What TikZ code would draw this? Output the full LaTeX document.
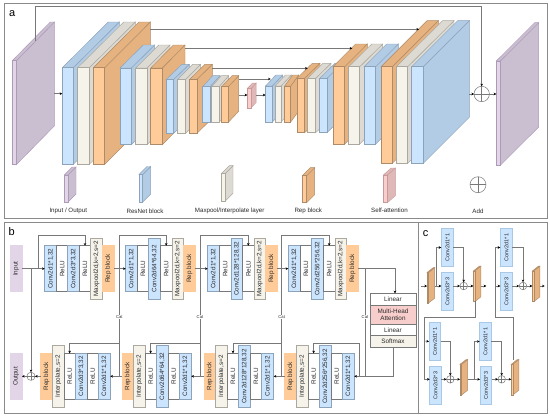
\documentclass[tikz,border=0pt]{standalone}
\usepackage{fontspec}
\usepackage{graphicx}
\setmainfont{Liberation Sans}
\usetikzlibrary{arrows.meta,calc}
\definecolor{bluef}{HTML}{CCE5FF}\definecolor{blues}{HTML}{B3CCE6}\definecolor{bluel}{HTML}{8CA3BA}
\definecolor{whitef}{HTML}{F6F3EA}\definecolor{whites}{HTML}{DCDAD2}\definecolor{whitel}{HTML}{ABA99F}
\definecolor{orangef}{HTML}{FFCC99}\definecolor{oranges}{HTML}{E6B380}\definecolor{orangel}{HTML}{AE8B68}
\definecolor{purplef}{HTML}{E1D5E7}\definecolor{purples}{HTML}{CABFD0}\definecolor{purplel}{HTML}{AD99B8}
\definecolor{pinkf}{HTML}{F8CECC}\definecolor{pinks}{HTML}{DFB9B7}\definecolor{pinkl}{HTML}{C9999A}
\definecolor{wire}{HTML}{787878}\definecolor{frameg}{HTML}{8A8A8A}\definecolor{txt}{HTML}{2A2A2A}\definecolor{cedge}{HTML}{A9C8E6}
\newcommand\cub[8]{%
  \pgfmathsetmacro\cxa{#3+#6}\pgfmathsetmacro\cya{#4-#7}\pgfmathsetmacro\cyb{#5-#7}
  \pgfmathsetmacro\cxb{#2+#6}\pgfmathsetmacro\cmx{(#2+#3)/2}\pgfmathsetmacro\cmy{(#4+#5)/2}
  \pgfmathsetmacro\cwd{#3-#2}\pgfmathsetmacro\cht{#5-#4}
  \draw[line width=.45pt,draw=#8l,fill=#8s] (#3,#4)--(\cxa,\cya)--(\cxa,\cyb)--(#3,#5)--cycle;
  \draw[line width=.45pt,draw=#8l,fill=#8s] (#2,#4)--(\cxb,\cya)--(\cxa,\cya)--(#3,#4)--cycle;
  \node[draw=#8l,fill=#8f,line width=.45pt,inner sep=0pt,outer sep=0pt,minimum width=\cwd pt,minimum height=\cht pt] (#1) at (\cmx,\cmy) {};
  \coordinate (#1-r) at (\cxa,\cya);
}
\newcommand\bxr[7]{%
  \pgfmathsetmacro\bcx{(#2+#3)/2}\pgfmathsetmacro\bcy{(#4+#5)/2}
  \pgfmathsetmacro\bwd{#3-#2}\pgfmathsetmacro\bht{#5-#4}
  \node[box,#6,minimum width=\bwd pt,minimum height=\bht pt] (#1) at (\bcx,\bcy) {\rotatebox{90}{#7}};
}
\newcommand\bxh[7]{%
  \pgfmathsetmacro\bcx{(#2+#3)/2}\pgfmathsetmacro\bcy{(#4+#5)/2}
  \pgfmathsetmacro\bwd{#3-#2}\pgfmathsetmacro\bht{#5-#4}
  \node[box,#6,minimum width=\bwd pt,minimum height=\bht pt] (#1) at (\bcx,\bcy) {#7};
}
\tikzset{
  box/.style={draw=wire,line width=.5pt,inner sep=0pt,outer sep=0pt,text=txt,font=\fontsize{6.35}{7.4}\selectfont,align=center},
  bl/.style={fill=bluef,draw=bluel},
  wh/.style={fill=whitef,draw=whitel},
  or/.style={fill=orangef,draw=orangef},
  pu/.style={fill=purplef,draw=purplef},
  pk/.style={fill=pinkf,draw=pinkl},
  pl/.style={fill=white},
  cc/.style={font=\fontsize{5.5}{6}\selectfont},
  wireln/.style={draw=wire,line width=.6pt},
  arr/.style={wireln,-{Stealth[length=2.6pt,width=2.6pt,color=black]}},
  addc/.style={circle,draw=wire,line width=.5pt,fill=white,inner sep=0pt,outer sep=0pt,minimum size=#1,
    path picture={\draw[wire,line width=.45pt] (path picture bounding box.north)--(path picture bounding box.south)
      (path picture bounding box.west)--(path picture bounding box.east);}},
  cat/.style={fill=white,inner sep=.5pt,text=txt,font=\fontsize{4.2}{5}\selectfont},
  leg/.style={text=txt,font=\fontsize{6.2}{7}\selectfont,inner sep=0pt},
  plab/.style={text=black,font=\fontsize{11}{12}\selectfont,inner sep=0pt},
  panel/.style={draw=frameg,line width=.8pt,fill=none}
}
\begin{document}
\begin{tikzpicture}[x=1pt,y=-1pt]
\useasboundingbox (0,0) rectangle (550,416);
\fill[white] (0,0) rectangle (550,416);
% panels
\draw[panel] (4,3) rectangle (547.3,218);
\draw[panel] (4,222.3) rectangle (418.3,413.3);
\draw[panel] (418.3,222.3) rectangle (547.3,413.3);
\node[plab] (la) at (12.3,14) {a};
\node[plab] (lb) at (11.7,232) {b};
\node[plab] (lc) at (425.7,234) {c};
%% PANEL A
\cub{pin}{12.3}{16.3}{60.7}{164.7}{38}{38.7}{purple}
\cub{a1}{62.3}{73.3}{67.7}{164.3}{46}{45.7}{blue}
\cub{a2}{77.7}{89.3}{67.7}{164.3}{46}{45.7}{white}
\cub{a3}{93.3}{104.7}{67.7}{164.3}{45.6}{45.7}{orange}
\cub{a4}{120}{131.3}{68}{144.7}{23.3}{23}{blue}
\cub{a5}{135.7}{147}{68}{144.7}{23}{23}{white}
\cub{a6}{150.7}{162.3}{68}{144.7}{22.7}{23}{orange}
\cub{a7}{166.3}{173.7}{79.3}{133.3}{15.6}{15}{blue}
\cub{a8}{177.7}{185.7}{79.3}{133.3}{15}{15}{white}
\cub{a9}{189.7}{197}{79.3}{133.3}{15.3}{15}{orange}
\cub{a10}{202.7}{210}{86.7}{122.3}{10}{11}{blue}
\cub{a11}{211.7}{219}{86.7}{122.3}{9.7}{11}{white}
\cub{a12}{221.7}{228.3}{86.7}{122.3}{10.4}{11}{orange}
\cub{sa}{247.3}{251}{88.5}{107.8}{5.2}{5.4}{pink}
\cub{a13}{265.5}{272.3}{86}{122}{10.4}{11}{blue}
\cub{a14}{275}{281}{86}{122}{10.4}{11}{white}
\cub{a15}{284.7}{290.7}{86}{122}{8}{11}{orange}
\cub{a16}{297}{304.7}{78.3}{132.7}{15.3}{15}{orange}
\cub{a17}{307.7}{315.7}{78.3}{132.7}{15.3}{15}{white}
\cub{a18}{319.7}{327}{78.3}{132.7}{15.3}{15}{blue}
\cub{a19}{333}{344.7}{66.7}{144}{22.6}{22.7}{orange}
\cub{a20}{348.7}{359.7}{66.7}{144}{23}{22.7}{white}
\cub{a21}{364}{375.7}{66.7}{144}{22.6}{22.7}{blue}
\cub{a22}{381}{392.3}{66.7}{163.3}{46}{46}{orange}
\cub{a23}{396.3}{407.7}{66.7}{163.3}{46.3}{46}{white}
\cub{a24}{411.7}{423.3}{66.7}{163.3}{46}{46}{blue}
\cub{pout}{496.3}{500.3}{61}{165.3}{38.4}{38.3}{purple}
\node[addc=15.4pt] (aadd) at (481.7,94) {};
% skips
\coordinate (s1a) at (35,40.7);\coordinate (s1b) at (481.7,6.3);
\draw[arr] (s1a) |- (s1b) -- (aadd.north);
\coordinate (s2a) at (150.3,29.3);\coordinate (s2b) at (419,29.3);
\draw[arr] (s2a) -- (s2b);
\coordinate (s3a) at (185,48.3);\coordinate (s3b) at (352.3,48.3);
\draw[arr] (s3a) -- (s3b);
\coordinate (s4a) at (212.3,68.3);\coordinate (s4b) at (307.7,68.3);
\draw[arr] (s4a) -- (s4b);
\coordinate (s5a) at (239,79);\coordinate (s5b) at (270.7,79);
\draw[arr] (s5a) -- (s5b);
\coordinate (i1) at (54.3,93.7);\coordinate (i2) at (62.3,93.7);
\draw[arr] (i1) -- (i2);
\coordinate (m1) at (239,95);\coordinate (m2) at (247.3,95);\coordinate (m3) at (256.2,95);\coordinate (m4) at (265.5,95);
\draw[arr] (m1) -- (m2);
\draw[arr] (m3) -- (m4);
\coordinate (o1) at (469.3,94);\coordinate (o2) at (496.3,94);
\draw[arr] (o1) -- (aadd.west);
\draw[arr] (aadd.east) -- (o2);
% legend
\cub{l1}{64.3}{68}{175}{202}{8}{8}{purple}
\cub{l2}{139}{142.7}{174.5}{202}{8}{8}{blue}
\cub{l3}{221.3}{225}{173.7}{201.3}{8}{8}{white}
\cub{l4}{302.3}{306.7}{175.7}{202.7}{8}{8}{orange}
\cub{l5}{383.3}{387.3}{175}{202.7}{8}{7}{pink}
\node[addc=16pt] (l6) at (478,184.7) {};
\node[leg] (t1) at (68.3,211.3) {Input / Output};
\node[leg] (t2) at (145,210.8) {ResNet block};
\node[leg] (t3) at (229.7,210.5) {Maxpool/Interpolate layer};
\node[leg] (t4) at (308.3,210.5) {Rep block};
\node[leg] (t5) at (389.5,210.5) {Self-attention};
\node[leg] (t6) at (478,210.8) {Add};
%% PANEL B
\bxr{inp}{10}{22}{245.7}{291.7}{pu}{Input}
\bxr{outp}{10}{22}{353.3}{399.3}{pu}{Output}
% top row 1
\bxr{c11}{44.7}{56.7}{245.7}{291.7}{bl}{Conv2d1*1,32}
\bxr{r11}{56.7}{67.7}{245.7}{291.7}{pl}{ReLU}
\bxr{c12}{67.7}{79.3}{245.7}{291.7}{bl}{Conv2d3*3,32}
\bxr{r12}{79.3}{90.7}{245.7}{291.7}{pl}{ReLU}
\bxr{m1b}{90.7}{102.3}{238.3}{299.3}{wh}{Maxpool2d,k=2,s=2}
\bxr{p1}{102.3}{114.3}{245.7}{291.7}{or}{Rep block}
% top row 2
\bxr{c21}{125.7}{137.3}{245.7}{291.7}{bl}{Conv2d1*1,32}
\bxr{r21}{137.3}{148.7}{245.7}{291.7}{pl}{ReLU}
\bxr{c22}{148.7}{160.3}{238.3}{299.3}{bl}{Conv2d64*64,32}
\bxr{r22}{160.3}{172}{245.7}{291.7}{pl}{ReLU}
\bxr{m2b}{172}{183.7}{238.3}{299.3}{wh}{Maxpool2d,k=2,s=2}
\bxr{p2}{183.7}{195.3}{245.7}{291.7}{or}{Rep block}
% top row 3
\bxr{c31}{207.7}{219.3}{245.7}{291.7}{bl}{Conv2d1*1,32}
\bxr{r31}{219.3}{231}{245.7}{291.7}{pl}{ReLU}
\bxr{c32}{231}{242.7}{238.3}{299.3}{bl}{Conv2d128*128,32}
\bxr{r32}{242.7}{254}{245.7}{291.7}{pl}{ReLU}
\bxr{m3b}{254}{265.7}{238.3}{299.3}{wh}{Maxpool2d,k=2,s=2}
\bxr{p3}{265.7}{277.3}{245.7}{291.7}{or}{Rep block}
% top row 4
\bxr{c41}{288.3}{300.3}{245.7}{291.7}{bl}{Conv2d1*1,32}
\bxr{r41}{300.3}{311.7}{245.7}{291.7}{pl}{ReLU}
\bxr{c42}{311.7}{323.3}{238.3}{299.3}{bl}{Conv2d256*256,32}
\bxr{r42}{323.3}{335}{245.7}{291.7}{pl}{ReLU}
\bxr{m4b}{335}{346.7}{238.3}{299.3}{wh}{Maxpool2d,k=2,s=2}
\bxr{p4}{346.7}{358.3}{245.7}{291.7}{or}{Rep block}
% bottom row 1
\bxr{dp1}{40.7}{52.3}{353.3}{399.3}{or}{Rep block}
\bxr{di1}{52.3}{64}{345.7}{407.3}{wh}{Interpolate,s=2}
\bxr{dr11}{64}{75.3}{353.3}{399.3}{pl}{ReLU}
\bxr{dc12}{75.3}{87}{353.3}{399.3}{bl}{Conv2d3*3,32}
\bxr{dr12}{87}{98.3}{353.3}{399.3}{pl}{ReLU}
\bxr{dc11}{98.3}{110.3}{353.3}{399.3}{bl}{Conv2d1*1,32}
% bottom row 2
\bxr{dp2}{122}{133.3}{353.3}{399.3}{or}{Rep block}
\bxr{di2}{133.3}{145}{345.7}{407.3}{wh}{Interpolate,s=2}
\bxr{dr21}{145}{156.3}{353.3}{399.3}{pl}{ReLU}
\bxr{dc22}{156.3}{168}{345.7}{407.3}{bl}{Conv2d64*64,32}
\bxr{dr22}{168}{179.3}{353.3}{399.3}{pl}{ReLU}
\bxr{dc21}{179.3}{191.3}{353.3}{399.3}{bl}{Conv2d1*1,32}
% bottom row 3
\bxr{dp3}{204}{215.7}{353.3}{399.3}{or}{Rep block}
\bxr{di3}{215.7}{227.3}{345.7}{407.3}{wh}{Interpolate,s=2}
\bxr{dr31}{227.3}{238.7}{353.3}{399.3}{pl}{ReLU}
\bxr{dc32}{238.7}{250.3}{345.7}{407.3}{bl}{Conv2d128*128,32}
\bxr{dr32}{250.3}{261.7}{353.3}{399.3}{pl}{ReLU}
\bxr{dc31}{261.7}{273.7}{353.3}{399.3}{bl}{Conv2d1*1,32}
% bottom row 4
\bxr{dp4}{284.7}{296.3}{353.3}{399.3}{or}{Rep block}
\bxr{di4}{296.3}{308}{345.7}{407.3}{wh}{Interpolate,s=2}
\bxr{dr41}{308}{319.3}{353.3}{399.3}{pl}{ReLU}
\bxr{dc42}{319.3}{331}{345.7}{407.3}{bl}{Conv2d256*256,32}
\bxr{dr42}{331}{342.3}{353.3}{399.3}{pl}{ReLU}
\bxr{dc41}{342.3}{354.3}{353.3}{399.3}{bl}{Conv2d1*1,32}
% stack
\bxh{s1}{370}{416}{293.3}{305}{pl}{Linear}
\bxh{s2}{370}{416}{305}{324.3}{pk,draw=wire}{Multi-Head\\[-0.5pt]Attention}
\bxh{s3}{370}{416}{324.3}{335.7}{pl}{Linear}
\bxh{s4}{370}{416}{335.7}{347.3}{wh,draw=wire}{Softmax}
\node[addc=8.2pt] (badd) at (31,376.3) {};
% wires b
\coordinate (j0) at (31,268.7);\coordinate (j0b) at (38.3,268.7);
\draw[arr] (inp.east) -- (c11.west);
\draw[arr] (j0) -- (badd.north);
\draw[arr] (j0b) |- ($(r12.north)+(0,-10)$) -- (r12.north);
\draw[arr] (dp1.west |- badd) -- (badd.east);
\draw[arr] (badd.west) -- (outp.east |- badd);
\foreach \vPa/\vCb/\vRr/\vDp/\vDc/\vUx/\vDr in {p1/c21/r22/dp2/dc11/119.3/dr11, p2/c31/r32/dp3/dc21/200/dr21, p3/c41/r42/dp4/dc31/281.7/dr31}{
  \coordinate (ju) at (\vUx,268.7);
  \coordinate (jd) at (\vUx,376.3);
  \draw[arr] (\vPa.east) -- (\vCb.west);
  \draw[arr] (ju) |- ($(\vRr.north)+(0,-10)$) -- (\vRr.north);
  \draw[wireln] (ju) -- (jd);
  \draw[arr] (\vDp.west) -- (\vDc.east);
  \draw[arr] (jd) |- ($(\vDr.north)+(0,-10)$) -- (\vDr.north);
  \node[cat] at (\vUx,316.7) {Cat};
}
% last group
\coordinate (q1) at (365,268.7);\coordinate (q2) at (365,376.3);\coordinate (q3) at (359.3,376.3);
\coordinate (q5) at (395,293.3);
\draw[arr] (p4.east) -| (q5);
\draw[wireln] (q1) -- (q2);
\node[cat] at (365,316.7) {Cat};
\coordinate (q4) at (393.3,347.3);
\draw[arr] (q4) |- (dc41.east);
\draw[arr] (q3) |- ($(dr41.north)+(0,-10)$) -- (dr41.north);
%% PANEL C
\tikzset{cbx/.style={fill=bluef,draw=cedge,cc}}
\bxr{f1}{441.3}{453.3}{228.3}{266.7}{cbx}{Conv2d1*1}
\bxr{f2}{441.3}{453.3}{272.3}{310.7}{cbx}{Conv2d3*3}
\bxr{f3}{500.3}{512.3}{228.3}{266.7}{cbx}{Conv2d1*1}
\bxr{f4}{500.3}{512.3}{272.3}{310.7}{cbx}{Conv2d3*3}
\bxr{f5}{429}{440.7}{322.3}{360.7}{cbx}{Conv2d1*1}
\bxr{f6}{429.7}{441.3}{366.7}{404.3}{cbx}{Conv2d3*3}
\bxr{f7}{479.7}{491.3}{322.3}{360.7}{cbx}{Conv2d1*1}
\bxr{f8}{480}{491.7}{366.7}{404.3}{cbx}{Conv2d3*3}
\cub{g1}{427}{428.5}{272.5}{303}{6.2}{4.8}{orange}
\cub{g2}{473.3}{474.8}{271}{301.7}{6}{4.8}{orange}
\cub{g3}{532.3}{533.8}{271}{301.7}{6}{4.8}{orange}
\cub{g4}{460}{461.5}{364.3}{395}{6.2}{4.8}{orange}
\cub{g5}{511.3}{512.8}{364.3}{395}{6}{4.8}{orange}
\node[addc=7.6pt] (h1) at (463.7,286) {};
\node[addc=7.6pt] (h2) at (523,286) {};
\node[addc=7.6pt] (h3) at (450.3,379.3) {};
\node[addc=7.6pt] (h4) at (501.7,379.3) {};
% top-left
\coordinate (w0) at (421.3,286);\draw[arr] (w0) -- (g1.west |- h1);
\coordinate (w1) at (436.3,286);
\draw[arr] (g1-r |- h1) -- (f2.west |- h1);
\draw[arr] (w1) |- (f1.west);
\draw[arr] (f1.east) -| (h1.north);
\draw[arr] (f2.east |- h1) -- (h1.west);
\draw[arr] (h1.east) -- (g2.west |- h1);
% top-right
\coordinate (w2) at (486.3,286);\draw[arr] (g2-r |- h1) -- (w2);
\coordinate (w3) at (495.3,286);
\draw[arr] (w3) -- (f4.west |- h2);
\draw[arr] (f4.east |- h2) -- (h2.west);
\draw[arr] (f3.east) -| (h2.north);
\draw[arr] (h2.east) -- (g3.west |- h2);
\coordinate (w4) at (544.7,286);\draw[arr] (g3-r |- h2) -- (w4);
% link g2 -> row 2
\coordinate (w5) at (475.3,300.5);\coordinate (w6) at (424,317.5);\coordinate (w7) at (424,379.3);
\draw[wireln] (w5) |- (w6) -- (w7);
\draw[arr] (w7) -- (f6.west |- h3);
\coordinate (w7a) at (424,341);
\draw[arr] (w7a) -- (f5.west);
\draw[arr] (f6.east |- h3) -- (h3.west);
\draw[arr] (f5.east) -| (h3.north);
\draw[arr] (h3.east) -- (g4.west |- h3);
\coordinate (w8) at (474,379.3);
\draw[arr] (g4-r |- h3) -- (f8.west |- h3);
\draw[arr] (w8) |- (f7.west);
\draw[arr] (f8.east |- h4) -- (h4.west);
\draw[arr] (f7.east) -| (h4.north);
\draw[arr] (h4.east) -- (g5.west |- h4);
% link g5 -> top right
\coordinate (w9) at (513.7,360);\coordinate (w10) at (495.7,317.5);\coordinate (w11) at (495.7,247.5);
\draw[arr] (w9) |- (w10) -- (w11) -- (f3.west);
\end{tikzpicture}
\end{document}
